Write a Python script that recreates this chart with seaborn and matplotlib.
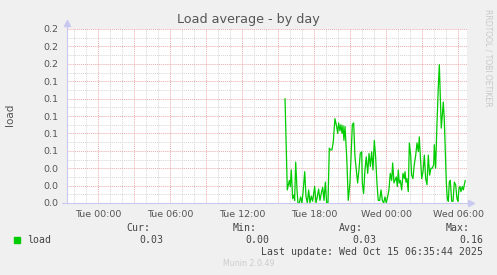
import matplotlib
matplotlib.use("Agg")
import matplotlib.pyplot as plt
from matplotlib.lines import Line2D
from matplotlib.ticker import MultipleLocator, FixedLocator, FuncFormatter
import seaborn as sns
import pandas as pd

# hours relative to Tue 00:00
hours = [15.56, 15.75, 15.92, 16.00, 16.08, 16.20, 16.31, 16.36, 16.45, 16.56,
         16.64, 16.75, 16.86, 16.97, 17.08, 17.20, 17.31, 17.42, 17.53, 17.64,
         17.75, 17.86, 17.95, 18.03, 18.14, 18.25, 18.36, 18.47, 18.58, 18.70,
         18.81, 18.92, 19.03, 19.14, 19.25, 19.36, 19.47, 19.58, 19.72, 19.86,
         19.95, 20.03, 20.14, 20.22, 20.31, 20.39, 20.47, 20.56, 20.70, 20.83,
         20.97, 21.06, 21.17, 21.28, 21.39, 21.50, 21.61, 21.72, 21.83, 21.95,
         22.00, 22.11, 22.22, 22.33, 22.45, 22.56, 22.67, 22.78, 22.89, 23.00,
         23.11, 23.22, 23.33, 23.45, 23.56, 23.67, 23.78, 23.89, 24.00, 24.11,
         24.22, 24.33, 24.45, 24.53, 24.64, 24.72, 24.83, 24.92, 25.00, 25.08,
         25.17, 25.28, 25.39, 25.50,
         25.56, 25.64, 25.72, 25.83, 25.92, 26.03, 26.11, 26.22, 26.33, 26.45,
         26.56, 26.67, 26.75, 26.83, 26.95, 27.06, 27.17, 27.28, 27.39, 27.50,
         27.61, 27.72, 27.83, 27.95, 28.00, 28.11, 28.22, 28.33, 28.42, 28.50,
         28.58, 28.67, 28.75, 28.83, 28.92, 29.00, 29.08, 29.17, 29.25, 29.33,
         29.45, 29.56, 29.67, 29.78, 29.89, 29.97, 30.06, 30.14, 30.22, 30.33,
         30.42, 30.50, 30.58]

load = [0.120, 0.015, 0.026, 0.019, 0.038, 0.005, 0.009, 0.003, 0.047, 0.015,
        0.0, 0.0, 0.007, 0.0, 0.015, 0.036, 0.007, 0.0, 0.015, 0.0,
        0.008, 0.002, 0.011, 0.019, 0.0, 0.007, 0.016, 0.003, 0.011, 0.018,
        0.003, 0.024, 0.0, 0.0, 0.063, 0.061, 0.061, 0.070, 0.097, 0.088,
        0.080, 0.092, 0.083, 0.090, 0.080, 0.089, 0.072, 0.088, 0.053, 0.003,
        0.023, 0.053, 0.090, 0.092, 0.053, 0.038, 0.023, 0.038, 0.057, 0.059,
        0.023, 0.011, 0.038, 0.053, 0.034, 0.057, 0.042, 0.059, 0.038, 0.072,
        0.053, 0.023, 0.003, 0.003, 0.015, 0.003, 0.0, 0.007, 0.0, 0.007,
        0.015, 0.034, 0.026, 0.046, 0.023, 0.026, 0.030, 0.019, 0.038, 0.023,
        0.026, 0.015, 0.034, 0.028,
        0.036, 0.024, 0.028, 0.013, 0.069, 0.055, 0.032, 0.028, 0.044, 0.055,
        0.069, 0.059, 0.076, 0.055, 0.028, 0.036, 0.055, 0.028, 0.021, 0.055,
        0.032, 0.040, 0.040, 0.044, 0.067, 0.040, 0.090, 0.132, 0.159, 0.124,
        0.086, 0.101, 0.116, 0.097, 0.059, 0.024, 0.005, 0.002, 0.024, 0.026,
        0.002, 0.002, 0.024, 0.021, 0.005, 0.002, 0.017, 0.019, 0.013, 0.019,
        0.015, 0.021, 0.026]

tick_hours = [0, 6, 12, 18, 24, 30]
tick_labels = ["Tue 00:00", "Tue 06:00", "Tue 12:00", "Tue 18:00", "Wed 00:00", "Wed 06:00"]

legend_headers = ["Cur:", "Min:", "Avg:", "Max:"]
legend_values = ["0.03", "0.00", "0.03", "0.16"]
title = "Load average - by day"
last_update = "Last update: Wed Oct 15 06:35:44 2025"

sns.set_theme(style="white")
plt.rcParams["font.family"] = ["DejaVu Sans"]

W, H = 497, 275
fig = plt.figure(figsize=(W / 100, H / 100), dpi=100, facecolor="#F0F0F0")

def fx(px):
    return px / W

def fy(py):
    return 1 - py / H

ax = fig.add_axes([fx(67), fy(203), fx(467) - fx(67), fy(29) - fy(203)])
ax.set_facecolor("white")

df = pd.DataFrame({"hour": hours, "load": load})
sns.lineplot(data=df, x="hour", y="load", ax=ax, color="#00CC00", linewidth=0.9,
             estimator=None, sort=False)

ax.set_xlim((67 - 98.3) / 12, (467 - 98.3) / 12)
ax.set_ylim(0, 0.2)

# x: red grid every 3h, labels every 6h, grey minor every 1h
major_x = list(range(0, 31, 3))
ax.xaxis.set_major_locator(FixedLocator(major_x))
lab_map = dict(zip(tick_hours, tick_labels))
ax.xaxis.set_major_formatter(FuncFormatter(lambda v, p: lab_map.get(int(round(v)), "")))
ax.xaxis.set_minor_locator(MultipleLocator(1))
ax.yaxis.set_major_locator(MultipleLocator(0.02))
ax.yaxis.set_major_formatter(FuncFormatter(lambda v, p: "%.1f" % v))
ax.yaxis.set_minor_locator(MultipleLocator(0.01))

ax.grid(True, which="minor", color="#D6D6D6", linestyle=(0, (1, 1)), linewidth=0.7)
ax.grid(True, which="major", color="#EDAAAA", linestyle=(0, (1, 1)), linewidth=0.7)
ax.set_axisbelow(True)

ax.tick_params(axis="both", which="major", length=3, width=0.7, color="#E88080",
               labelsize=6.8, labelcolor="#555555", direction="out")
ax.tick_params(axis="x", which="major", pad=2)
ax.tick_params(axis="y", which="major", pad=4, length=2)
ax.tick_params(axis="both", which="minor", length=0)
ax.set_xlabel("")
ax.set_ylabel("")

for s in ["top", "right"]:
    ax.spines[s].set_visible(False)
for s in ["left", "bottom"]:
    ax.spines[s].set_color("#C8C8F0")
    ax.spines[s].set_linewidth(0.8)

# axis extensions with arrows
fig.add_artist(Line2D([fx(67), fx(67)], [fy(29), fy(24)], color="#C8C8F0", lw=0.8))
fig.add_artist(Line2D([fx(67)], [fy(23)], marker="^", markersize=4.5, color="#C8C8F0", lw=0))
fig.add_artist(Line2D([fx(62), fx(67)], [fy(203), fy(203)], color="#C8C8F0", lw=0.8))
fig.add_artist(Line2D([fx(467), fx(470)], [fy(203), fy(203)], color="#C8C8F0", lw=0.8))
fig.add_artist(Line2D([fx(471)], [fy(203)], marker=">", markersize=4.5, color="#C8C8F0", lw=0))

# texts
fig.text(fx(248.5), fy(19.5), title, ha="center", va="center", fontsize=9.2, color="#555555")
fig.text(fx(10), fy(115), "load", ha="center", va="center", rotation=90, fontsize=7.5, color="#555555")
fig.text(fx(488), fy(58), "RRDTOOL / TOBI OETIKER", ha="center", va="center", rotation=270,
         fontsize=5.5, color="#C8C8C8")

mono = "DejaVu Sans Mono"
header_right = [150, 257, 363, 470]
value_right = [163, 269, 376, 483]
for hname, xr in zip(legend_headers, header_right):
    fig.text(fx(xr), fy(227.7), hname, ha="right", va="center", fontsize=7.1, family=mono, color="#444444")
for v, xr in zip(legend_values, value_right):
    fig.text(fx(xr), fy(239.7), v, ha="right", va="center", fontsize=7.1, family=mono, color="#444444")
fig.add_artist(Line2D([fx(17)], [fy(239.7)], marker="s", markersize=4.5, color="#00CC00", lw=0))
fig.text(fx(27), fy(239.7), "load", ha="left", va="center", fontsize=7.1, family=mono, color="#444444")
fig.text(fx(483), fy(251.7), last_update, ha="right", va="center", fontsize=7.1, family=mono, color="#444444")
fig.text(fx(249), fy(263.7), "Munin 2.0.49", ha="center", va="center", fontsize=5.7, color="#CCCCCC")

fig.savefig("out.png", dpi=100, facecolor=fig.get_facecolor())
